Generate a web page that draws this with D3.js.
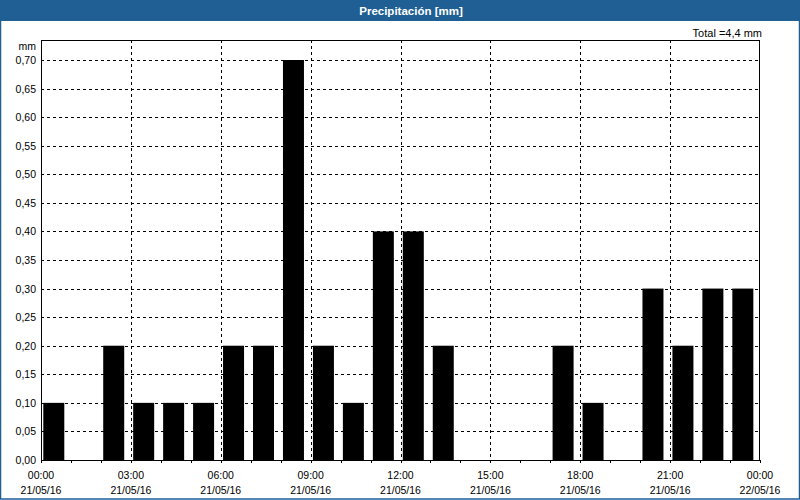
<!DOCTYPE html>
<html>
<head>
<meta charset="utf-8">
<script src="https://cdn.jsdelivr.net/npm/d3@7"></script>
<style>
  html, body { margin: 0; padding: 0; background: #fff; }
  svg { display: block; }
  text { font-family: "Liberation Sans", Arial, sans-serif; }
</style>
</head>
<body>
<svg id="chart" width="800" height="500"></svg>
<script>
// ---- data ----
const title = "Precipitación [mm]";
const unitLabel = "mm";
const totalLabel = "Total =4,4 mm";
const hours = d3.range(0, 24); // hour of day for each bar (21/05/16)
const values = [0.10, 0.00, 0.20, 0.10, 0.10, 0.10, 0.20, 0.20, 0.70, 0.20, 0.10, 0.40,
                0.40, 0.20, 0.00, 0.00, 0.00, 0.20, 0.10, 0.00, 0.30, 0.20, 0.30, 0.30];
const yTicks = [0, 0.05, 0.10, 0.15, 0.20, 0.25, 0.30, 0.35, 0.40, 0.45, 0.50, 0.55, 0.60, 0.65, 0.70];
const xTickHours = [0, 3, 6, 9, 12, 15, 18, 21, 24];
const xTimeLabels = ["00:00", "03:00", "06:00", "09:00", "12:00", "15:00", "18:00", "21:00", "00:00"];
const xDateLabels = ["21/05/16", "21/05/16", "21/05/16", "21/05/16", "21/05/16", "21/05/16", "21/05/16", "21/05/16", "22/05/16"];

// ---- layout ----
const W = 800, H = 500;
const pLeft = 41, pRight = 760, pTop = 40, pBottom = 460;
const svg = d3.select("#chart");

const start = new Date(2016, 4, 21, 0, 0);
const end = new Date(2016, 4, 22, 0, 0);
const x = d3.scaleTime().domain([start, end]).range([pLeft, pRight]);
const hourDate = h => new Date(2016, 4, 21, h, 0);
const y = d3.scaleLinear().domain([0, 0.70]).range([pBottom, 60]);

const loc = d3.formatLocale({decimal: ",", thousands: ".", grouping: [3], currency: ["", ""]});
const fmt = loc.format(".2f");

// background + outer frame
svg.append("rect").attr("x", 0).attr("y", 0).attr("width", W).attr("height", H).attr("fill", "#fff");
svg.append("rect").attr("x", 0).attr("y", 0).attr("width", W).attr("height", 21).attr("fill", "#1f5f94");
svg.append("rect").attr("x", 0.5).attr("y", 0.5).attr("width", W - 1).attr("height", H - 1.5)
  .attr("fill", "none").attr("stroke", "#1f5f94").attr("stroke-width", 1.5);

svg.append("text").attr("x", 411).attr("y", 15).attr("text-anchor", "middle")
  .attr("fill", "#fff").attr("font-weight", "bold").attr("font-size", "11.5px").text(title);

svg.append("text").attr("x", 762).attr("y", 37).attr("text-anchor", "end")
  .attr("fill", "#000").attr("font-size", "11px").text(totalLabel);

svg.append("text").attr("x", 36).attr("y", 50).attr("text-anchor", "end")
  .attr("fill", "#000").attr("font-size", "10.5px").text(unitLabel);

// horizontal gridlines
svg.append("g").selectAll("line").data(yTicks.filter(d => d > 0)).join("line")
  .attr("x1", pLeft).attr("x2", pRight)
  .attr("y1", d => Math.round(y(d)) + 0.5).attr("y2", d => Math.round(y(d)) + 0.5)
  .attr("stroke", "#000").attr("stroke-width", 1).attr("stroke-dasharray", "3,3");

// vertical gridlines
svg.append("g").selectAll("line").data(xTickHours.filter(h => h > 0 && h < 24)).join("line")
  .attr("x1", h => Math.round(x(hourDate(h))) + 0.5).attr("x2", h => Math.round(x(hourDate(h))) + 0.5)
  .attr("y1", pTop).attr("y2", pBottom)
  .attr("stroke", "#000").attr("stroke-width", 1).attr("stroke-dasharray", "3,3");

// bars
svg.append("g").selectAll("rect").data(hours.filter((h, i) => values[i] > 0)).join("rect")
  .attr("x", h => x(hourDate(h)) + 2.3)
  .attr("width", 21)
  .attr("y", h => y(values[h]))
  .attr("height", h => pBottom - y(values[h]))
  .attr("fill", "#000");

// plot frame
svg.append("rect").attr("x", pLeft + 0.5).attr("y", pTop + 0.5)
  .attr("width", pRight - pLeft - 1).attr("height", pBottom - pTop)
  .attr("fill", "none").attr("stroke", "#000").attr("stroke-width", 1);

// y tick labels
svg.append("g").selectAll("text").data(yTicks).join("text")
  .attr("x", 36).attr("y", d => y(d) + 4)
  .attr("text-anchor", "end").attr("font-size", "10.5px").attr("fill", "#000")
  .text(d => fmt(d));

// x hourly ticks
svg.append("g").selectAll("line").data(d3.range(0, 25)).join("line")
  .attr("x1", h => Math.round(x(hourDate(h))) + 0.5).attr("x2", h => Math.round(x(hourDate(h))) + 0.5)
  .attr("y1", pBottom).attr("y2", pBottom + 3)
  .attr("stroke", "#000").attr("stroke-width", 1);

// x labels
const xl = svg.append("g");
xl.selectAll("text.t").data(xTickHours).join("text").attr("class", "t")
  .attr("x", (h) => x(hourDate(h))).attr("y", 479)
  .attr("text-anchor", "middle").attr("font-size", "10.5px").attr("fill", "#000")
  .text((h, i) => xTimeLabels[i]);
xl.selectAll("text.d").data(xTickHours).join("text").attr("class", "d")
  .attr("x", (h) => x(hourDate(h))).attr("y", 494)
  .attr("text-anchor", "middle").attr("font-size", "10.5px").attr("fill", "#000")
  .text((h, i) => xDateLabels[i]);
</script>
</body>
</html>
